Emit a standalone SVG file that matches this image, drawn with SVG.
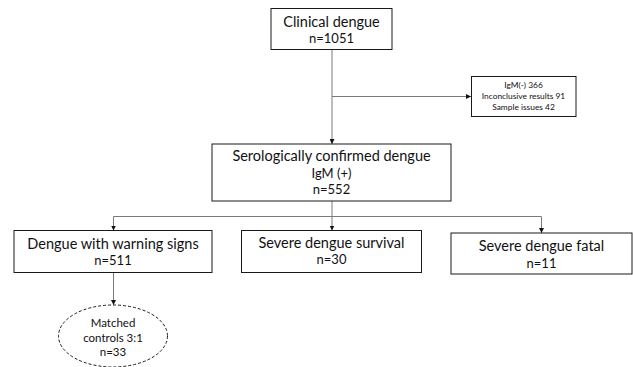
<svg xmlns="http://www.w3.org/2000/svg" width="633" height="367" viewBox="0 0 633 367">
<style>
.box{fill:#fff;stroke:#1a1a1a;stroke-width:1}
.t{font-family:Lato,"Open Sans","Liberation Sans",sans-serif;fill:#111;text-anchor:middle}
.c{fill:none;stroke:#7a7a7a;stroke-width:1}
</style>
<defs>
<marker id="ah" viewBox="0 0 10 10" refX="10" refY="5" markerWidth="5" markerHeight="5" orient="auto" markerUnits="userSpaceOnUse">
<path d="M0,0 L10,5 L0,10 z" fill="#111"/>
</marker>
</defs>
<rect width="633" height="367" fill="#fff"/>
<g id="connectors">
<path class="c" d="M332,49 V144" marker-end="url(#ah)"/>
<path class="c" d="M332,96.5 H471" marker-end="url(#ah)"/>
<path class="c" d="M332,201 V216.5"/>
<path class="c" d="M113.5,216.5 H541.5"/>
<path class="c" d="M113.5,216.5 V230.5" marker-end="url(#ah)"/>
<path class="c" d="M332,216.5 V230.5" marker-end="url(#ah)"/>
<path class="c" d="M541.5,216.5 V233" marker-end="url(#ah)"/>
<path class="c" d="M113.5,272.5 V305" marker-end="url(#ah)"/>
</g>
<g id="clinical">
<rect class="box" x="271" y="8.5" width="121" height="41"/>
<text class="t" x="331.5" y="26.5" font-size="14.5">Clinical dengue</text>
<text class="t" x="331.5" y="43" font-size="13">n=1051</text>
</g>
<g id="excluded">
<rect class="box" x="471.5" y="76.5" width="104.5" height="40"/>
<text class="t" x="523.5" y="87.5" font-size="8.4">IgM(-) 366</text>
<text class="t" x="523.5" y="99" font-size="8.4">Inconclusive results 91</text>
<text class="t" x="523.5" y="110" font-size="8.4">Sample issues 42</text>
</g>
<g id="serological">
<rect class="box" x="212" y="144" width="239" height="57"/>
<text class="t" x="331.5" y="161" font-size="14.5">Serologically confirmed dengue</text>
<text class="t" x="331.5" y="177.5" font-size="13">IgM (+)</text>
<text class="t" x="331.5" y="194" font-size="13">n=552</text>
</g>
<g id="warning">
<rect class="box" x="14" y="230.5" width="198" height="42"/>
<text class="t" x="113" y="248.5" font-size="14.5">Dengue with warning signs</text>
<text class="t" x="113" y="265" font-size="13">n=511</text>
</g>
<g id="survival">
<rect class="box" x="241.5" y="230.5" width="180" height="42"/>
<text class="t" x="331.5" y="247.5" font-size="14.5">Severe dengue survival</text>
<text class="t" x="331.5" y="264" font-size="13">n=30</text>
</g>
<g id="fatal">
<rect class="box" x="451" y="233" width="181" height="41"/>
<text class="t" x="541.5" y="251" font-size="14.5">Severe dengue fatal</text>
<text class="t" x="541.5" y="267.5" font-size="13">n=11</text>
</g>
<g id="matched">
<ellipse cx="113" cy="336" rx="54.5" ry="31" fill="#fff" stroke="#1a1a1a" stroke-width="1" stroke-dasharray="3,2"/>
<text class="t" x="113" y="327" font-size="11.5">Matched</text>
<text class="t" x="113" y="342" font-size="11.5">controls 3:1</text>
<text class="t" x="113" y="356" font-size="11.5">n=33</text>
</g>
</svg>
